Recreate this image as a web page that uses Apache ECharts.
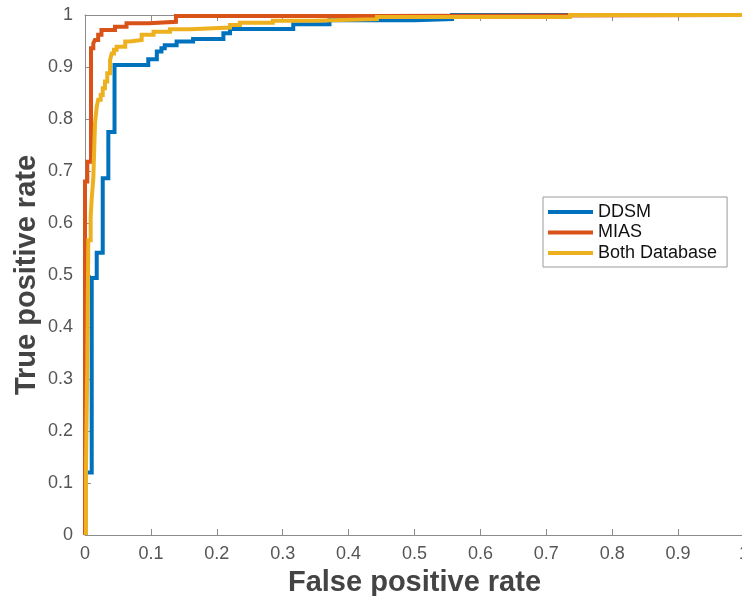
<!DOCTYPE html>
<html>
<head>
<meta charset="utf-8">
<script src="https://cdn.jsdelivr.net/npm/echarts@6/dist/echarts.min.js"></script>
<style>
  html, body { margin: 0; padding: 0; background: #fff; }
  #chart { width: 742px; height: 596px; }
</style>
</head>
<body>
<div id="chart"></div>
<script>
// ROC curve corner points (false positive rate, true positive rate)
const ddsmFpr = [0, 0, 0.0102, 0.0102, 0.0178, 0.0178, 0.0269, 0.0269, 0.0354, 0.0354, 0.0448, 0.0448, 0.096, 0.096, 0.109, 0.109, 0.116, 0.116, 0.121, 0.121, 0.139, 0.139, 0.164, 0.164, 0.210, 0.210, 0.220, 0.220, 0.316, 0.316, 0.371, 0.371, 0.50, 0.50, 0.557, 0.557, 1];
const ddsmTpr = [0, 0.12, 0.12, 0.494, 0.494, 0.543, 0.543, 0.686, 0.686, 0.775, 0.775, 0.904, 0.904, 0.915, 0.915, 0.930, 0.930, 0.936, 0.936, 0.942, 0.942, 0.949, 0.949, 0.954, 0.954, 0.965, 0.965, 0.973, 0.973, 0.982, 0.982, 0.990, 0.990, 0.992, 0.992, 1, 1];

const miasFpr = [0, 0, 0.0035, 0.0035, 0.0091, 0.0091, 0.0126, 0.0126, 0.015, 0.015, 0.020, 0.020, 0.025, 0.025, 0.0455, 0.0455, 0.063, 0.063, 0.097, 0.097, 0.138, 0.138, 0.44, 0.44, 1];
const miasTpr = [0, 0.68, 0.68, 0.718, 0.718, 0.936, 0.936, 0.9455, 0.9455, 0.952, 0.952, 0.962, 0.962, 0.971, 0.971, 0.9775, 0.9775, 0.984, 0.984, 0.987, 0.987, 0.998, 0.998, 1, 1];

const bothFpr = [0.0015, 0.0015, 0.0035, 0.0035, 0.005, 0.005, 0.0086, 0.0086, 0.010, 0.010, 0.0126, 0.0126, 0.0152, 0.0152, 0.0178, 0.0178, 0.020, 0.020, 0.0238, 0.0238, 0.0269, 0.0269, 0.0303, 0.0303, 0.0338, 0.0338, 0.038, 0.038, 0.0405, 0.0405, 0.044, 0.044, 0.048, 0.048, 0.061, 0.061, 0.068, 0.068, 0.086, 0.086, 0.104, 0.104, 0.129, 0.129, 0.159, 0.159, 0.220, 0.220, 0.235, 0.235, 0.285, 0.285, 0.346, 0.346, 0.443, 0.443, 0.736, 0.736, 1];
const bothTpr = [0, 0.13, 0.13, 0.33, 0.33, 0.567, 0.567, 0.612, 0.612, 0.644, 0.644, 0.686, 0.686, 0.792, 0.792, 0.824, 0.824, 0.837, 0.837, 0.846, 0.846, 0.859, 0.859, 0.872, 0.872, 0.888, 0.888, 0.913, 0.913, 0.926, 0.926, 0.933, 0.933, 0.939, 0.939, 0.949, 0.949, 0.952, 0.952, 0.962, 0.962, 0.968, 0.968, 0.9725, 0.9725, 0.976, 0.976, 0.981, 0.981, 0.985, 0.985, 0.989, 0.989, 0.992, 0.992, 0.996, 0.996, 1, 1];

const seriesNames = ['DDSM', 'MIAS', 'Both Database'];
const seriesColors = ['#0072BD', '#D95319', '#EDB120'];
const xTitle = 'False positive rate';
const yTitle = 'True positive rate';

function pairs(xs, ys) {
  return xs.map((x, i) => [x, ys[i]]);
}

const FONT = '"Liberation Sans", Arial, Helvetica, sans-serif';
const axisGray = '#8c8c8c';

const chart = echarts.init(document.getElementById('chart'), null, { renderer: 'canvas' });

function valueAxis(extra) {
  return Object.assign({
    type: 'value',
    min: 0,
    max: 1,
    interval: 0.1,
    splitLine: { show: false },
    axisLine: { show: true, onZero: false, lineStyle: { color: axisGray, width: 1 } },
    axisTick: { show: true, inside: true, length: 6, lineStyle: { color: axisGray, width: 1 } }
  }, extra);
}

const option = {
  animation: false,
  backgroundColor: '#ffffff',
  grid: { left: 85, top: 15, width: 659, height: 520, containLabel: false, outerBoundsMode: 'none' },
  legend: {
    orient: 'vertical',
    left: 543,
    top: 197,
    padding: [6, 10, 5, 5],
    itemGap: 2.5,
    itemWidth: 45,
    itemHeight: 4,
    icon: 'rect',
    backgroundColor: '#ffffff',
    borderColor: '#9a9a9a',
    borderWidth: 1,
    borderRadius: 0,
    textStyle: { fontFamily: FONT, fontSize: 18, color: '#111', lineHeight: 18 },
    data: seriesNames
  },
  xAxis: [
    valueAxis({
      position: 'bottom',
      name: xTitle,
      nameLocation: 'middle',
      nameGap: 33,
      nameMoveOverlap: false,
      nameTextStyle: { fontFamily: FONT, fontSize: 29, fontWeight: 'bold', color: '#444' },
      axisLabel: { fontFamily: FONT, fontSize: 18, color: '#555', margin: 10, showMaxLabel: true }
    }),
    valueAxis({ position: 'top', axisLabel: { show: false } })
  ],
  yAxis: [
    valueAxis({
      position: 'left',
      name: yTitle,
      nameLocation: 'middle',
      nameGap: 44,
      nameMoveOverlap: false,
      nameTextStyle: { fontFamily: FONT, fontSize: 29, fontWeight: 'bold', color: '#444' },
      axisLabel: { fontFamily: FONT, fontSize: 18, color: '#555', margin: 12 }
    })
  ],
  series: [
    { xs: ddsmFpr, ys: ddsmTpr },
    { xs: miasFpr, ys: miasTpr },
    { xs: bothFpr, ys: bothTpr }
  ].map((s, i) => ({
    name: seriesNames[i],
    type: 'line',
    xAxisIndex: 0,
    yAxisIndex: 0,
    data: pairs(s.xs, s.ys),
    showSymbol: false,
    symbol: 'none',
    color: seriesColors[i],
    lineStyle: { width: 4, color: seriesColors[i], join: 'miter' },
    z: 2 + i,
    clip: true
  }))
};

chart.setOption(option);
</script>
</body>
</html>
